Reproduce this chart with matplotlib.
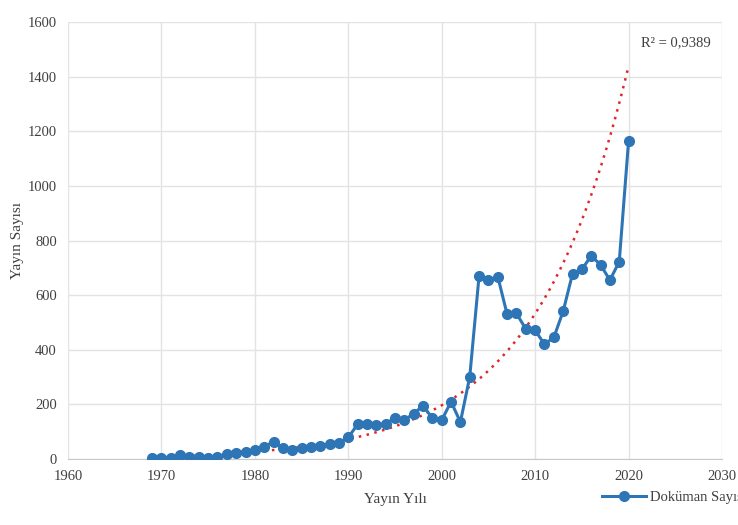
import matplotlib.pyplot as plt
import numpy as np

plt.rcParams["font.family"] = ["Liberation Serif", "DejaVu Serif"]

# Yayın yılları ve doküman sayıları
years = np.arange(1969, 2021)
counts = [2, 5, 4, 13, 7, 6, 5, 9, 18, 23,
          27, 33, 45, 64, 39, 33, 41, 43, 49, 55,
          59, 79, 127, 129, 126, 129, 151, 143, 166, 195,
          150, 142, 210, 135, 301, 671, 654, 668, 530, 533,
          476, 471, 420, 445, 541, 678, 694, 744, 711, 655,
          722, 1164]
r2_label = "R² = 0,9389"

# exponential trend line: y = trend_start * exp(trend_rate * (year - 1969))
trend_start = 9.0
trend_rate = 0.0995

trend_x = np.linspace(years[0], years[-1], 300)
trend_y = trend_start * np.exp(trend_rate * (trend_x - years[0]))

fig = plt.figure(figsize=(7.38, 5.25), dpi=100)
ax = fig.add_axes([68 / 738, 66 / 525, 654 / 738, 437 / 525])

line, = ax.plot(years, counts, color="#2E75B6", lw=2.2, marker="o",
                markersize=7, label="Doküman Sayısı", zorder=3)
ax.plot(trend_x, trend_y, color="#E0262B", lw=1.8, ls=(0, (1, 2.2)), zorder=2)

ax.set_xlim(1960, 2030)
ax.set_ylim(0, 1600)
ax.set_xticks(range(1960, 2031, 10))
ax.set_yticks(range(0, 1601, 200))
ax.grid(True, color="#e3e3e3", lw=1)
ax.set_axisbelow(True)
for side in ["top", "right", "left"]:
    ax.spines[side].set_visible(False)
ax.spines["bottom"].set_color("#c8c8c8")
ax.tick_params(length=0, labelsize=10.5, labelcolor="#404040", pad=8)

ax.set_xlabel("Yayın Yılı", fontsize=11, color="#404040", labelpad=7)
ax.set_ylabel("Yayın Sayısı", fontsize=11, color="#404040", labelpad=3)

ax.text(2021.3, 1523, r2_label, fontsize=10.5, color="#404040", va="center")

fig.legend(handles=[line], loc="center left", bbox_to_anchor=(589 / 738, 28 / 525),
           frameon=False, fontsize=10.5, handlelength=3.0, handletextpad=0.25,
           labelcolor="#404040")

fig.savefig("out.png", dpi=100)
